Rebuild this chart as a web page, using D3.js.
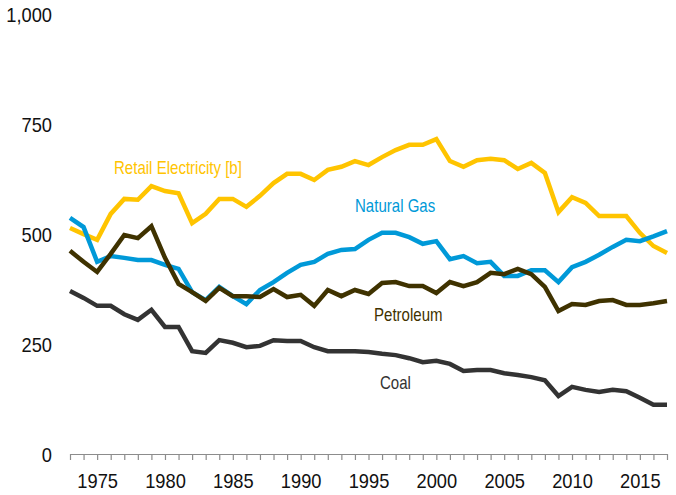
<!DOCTYPE html>
<html>
<head>
<meta charset="utf-8">
<script src="https://cdn.jsdelivr.net/npm/d3@7"></script>
<style>
  body { margin: 0; background: #fff; }
  svg { display: block; font-family: "Liberation Sans", Arial, sans-serif; }
</style>
</head>
<body>
<svg id="chart"></svg>
<script>
// chart data
var years = d3.range(1973, 2018);
var electricity = [516, 502, 489, 548, 582, 580, 611, 600, 595, 527, 548, 582, 582, 564, 589, 618, 639, 639, 625, 648,
  655, 668, 659, 677, 693, 705, 705, 718, 668, 655, 670, 673, 670, 650, 664, 641, 552, 586, 573, 543,
  543, 543, 505, 475, 459];
var naturalGas = [539, 518, 439, 452, 448, 443, 443, 432, 423, 370, 352, 382, 361, 343, 375, 393, 414, 432, 439, 457,
  466, 468, 489, 505, 505, 495, 480, 486, 445, 452, 436, 439, 407, 407, 420, 420, 393, 427, 439, 455,
  473, 489, 486, 497, 509];
var petroleum = [464, 439, 416, 457, 500, 493, 520, 448, 389, 370, 350, 380, 361, 361, 359, 377, 359, 364, 339, 375,
  361, 375, 366, 391, 393, 384, 384, 368, 393, 384, 393, 414, 411, 423, 411, 382, 327, 343, 341, 350,
  352, 341, 341, 345, 350];
var coal = [373, 357, 339, 339, 320, 307, 330, 291, 291, 236, 232, 261, 255, 245, 248, 261, 259, 259, 245, 236,
  236, 236, 234, 230, 227, 220, 211, 214, 207, 191, 193, 193, 186, 182, 177, 170, 134, 155, 148, 143,
  148, 145, 130, 114, 114];
var yTicks = [0, 250, 500, 750, 1000];
var xTicks = [1975, 1980, 1985, 1990, 1995, 2000, 2005, 2010, 2015];

var series = [
  {name: "Retail Electricity [b]", values: electricity, color: "#FFC400", lx: 114, ly: 174},
  {name: "Natural Gas", values: naturalGas, color: "#0099D8", lx: 355, ly: 212},
  {name: "Petroleum", values: petroleum, color: "#3F3200", lx: 374, ly: 321},
  {name: "Coal", values: coal, color: "#333333", lx: 380, ly: 389}
];

var width = 676, height = 495;
// the original font is a bit narrow, squeeze the text horizontally
var squeeze = 'scale(0.87,1)';

var svg = d3.select('#chart')
  .attr('width', width)
  .attr('height', height);

var x = d3.scaleLinear().domain([1973, 2017]).range([70, 667]);
var y = d3.scaleLinear().domain([0, 1000]).range([455, 15]);

// x axis: a tick every year, label every 5
var xAxis = svg.append('g')
  .attr('transform', 'translate(0,' + (y(0) - 1) + ')')
  .call(d3.axisBottom(x)
    .tickValues(years)
    .tickSize(6)
    .tickSizeOuter(0)
    .tickFormat(function (d) { return xTicks.indexOf(d) != -1 ? d : ''; }));
xAxis.select('.domain').attr('stroke', '#8c8c8c').attr('stroke-width', 1.2);
xAxis.selectAll('.tick line').attr('stroke', '#8c8c8c').attr('stroke-width', 1.2);
xAxis.selectAll('.tick text')
  .attr('font-size', 21)
  .attr('font-family', '"Liberation Sans", Arial, sans-serif')
  .attr('fill', '#111')
  .attr('y', 34)
  .attr('dy', 0)
  .attr('transform', squeeze);

// y axis labels only
var yAxis = svg.append('g')
  .attr('transform', 'translate(52,0)')
  .call(d3.axisLeft(y).tickValues(yTicks).tickSize(0).tickFormat(d3.format(',')));
yAxis.select('.domain').remove();
yAxis.selectAll('.tick text')
  .attr('font-size', 21)
  .attr('font-family', '"Liberation Sans", Arial, sans-serif')
  .attr('fill', '#111')
  .attr('x', 0)
  .attr('transform', squeeze);

var line = d3.line()
  .x(function (d, i) { return x(years[i]); })
  .y(function (d) { return y(d); });

svg.selectAll('path.series')
  .data(series)
  .enter()
  .append('path')
  .attr('class', 'series')
  .attr('fill', 'none')
  .attr('stroke', function (d) { return d.color; })
  .attr('stroke-width', 4.5)
  .attr('stroke-linejoin', 'miter')
  .attr('d', function (d) { return line(d.values); });

svg.selectAll('text.label')
  .data(series)
  .enter()
  .append('text')
  .attr('class', 'label')
  .attr('transform', function (d) { return 'translate(' + d.lx + ',' + d.ly + ') scale(0.86,1)'; })
  .attr('font-size', 17.5)
  .attr('fill', function (d) { return d.color; })
  .text(function (d) { return d.name; });
</script>
</body>
</html>
